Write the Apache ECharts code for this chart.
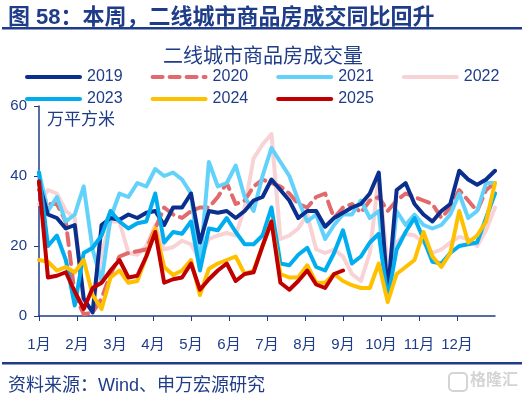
<!DOCTYPE html>
<html>
<head>
<meta charset="utf-8">
<script src="https://cdn.jsdelivr.net/npm/echarts@6/dist/echarts.min.js"></script>
<style>
html,body{margin:0;padding:0;background:#fff;}
#c{width:526px;height:395px;}
</style>
</head>
<body>
<div id="c"></div>
<script>
// Month tick labels
const months = ['1月','2月','3月','4月','5月','6月','7月','8月','9月','10月','11月','12月'];
const yTicks = [0, 20, 40, 60];
const years = ['2019','2020','2021','2022','2023','2024','2025'];

// Weekly transaction area, 万平方米 (52 weeks per year)
const v2019 = [38,29,28,25,26,5,1,26,28,27.5,29,28,29.5,30,26,31,31,35,21,30,29.5,30,28,30,33,34,39,36,33,28,30,30,25.5,28,29.5,31,32,35,41,6,36,38,32,29,27,30,32,41.5,39,37.5,39,41.5];
const v2020 = [36,32,32,27,6,0.5,1,5,12,17,18,18.5,19,25,31,29,28,30,31,31,34,38,32,33,37,39,38,37,35,32,31,34,35,28,31,32,29.5,33,34,30,33,35,34,33,32,28,31,36,33,30,36,38];
const v2021 = [41,30,34,27,29,37,19,10,28,35,34,38,37,42,40,41,39,35,14,44,37,38,43,34,30,40,48,44,40,33,27,29,22,26,29,29,33,28,30,5,30,26,29,26,25,26,29,35,28,30,38,38];
const v2022 = [32,36,35,30,28,3,2,18,27,27,18,17.5,20,26,19,19.7,21.5,20.5,16,22,23,23.7,23,31,45,49,52,22,23,25,29,19,18,19,17,12,10,18,40,14,21,23.5,23,21,18,19,21,22.6,22,20,24.5,31];
const v2023 = [41,20,23,16,3,18,19.5,23,30,27,25,26.5,27,35,21,24,23.5,27,13,25,24.5,28,24,20.5,20.5,23,31,15,14.5,17.5,19.5,14,13,18,24.5,15,17,21,23.5,5,19,24,28,22,15.5,15,18,20,20.5,21,28,35];
const v2024 = [16,15.5,13,14,12.5,16,6,2,11,13,9.5,10,17,25,14,11.7,13,16,6,13.5,15,16,17,12,13,20,27,12,11,11,14.5,9.5,9.5,12,10,8.8,8,8,15,4,12,14,16,24,17,14,18,30,21,23,27,38];
const v2025 = [38.5,11,11.5,12.5,7,2,8,9.5,13,16,11,11.5,17,24,9.5,10.5,11,15,7.5,10.5,13,15,10,12,12.5,20,27,9.5,7.5,10,13,9,8,12,13];

const navy = '#1f3c88';
const font = '"Liberation Sans", Arial, "Noto Sans CJK SC", sans-serif';

function pts(arr){ return arr.map((v,i)=>[i,v]); }
const lastWeek = 51;
const monthPos = months.map((m,i)=> i*lastWeek/12);

const styles = {
  '2019': {color:'#0b2f8f', type:'solid'},
  '2020': {color:'#e26a6c', type:[12,7]},
  '2021': {color:'#63d2fb', type:'solid'},
  '2022': {color:'#f8d2d4', type:'solid'},
  '2023': {color:'#00aeef', type:'solid'},
  '2024': {color:'#ffc000', type:'solid'},
  '2025': {color:'#c00000', type:'solid'}
};
const dataMap = {'2019':v2019,'2020':v2020,'2021':v2021,'2022':v2022,'2023':v2023,'2024':v2024,'2025':v2025};
const drawOrder = ['2022','2020','2021','2019','2023','2024','2025'];

const series = drawOrder.map(y => ({
  name: y,
  type: 'line',
  data: pts(dataMap[y]),
  showSymbol: false,
  symbol: 'none',
  lineStyle: {width: 4, color: styles[y].color, type: styles[y].type, cap: 'round', join:'round'},
  itemStyle: {color: styles[y].color},
  animation: false
}));

const solidIcon = 'path://M2,0h53a2,2 0 0 1 0,4h-53a2,2 0 0 1 0,-4z';
const dashIcon = 'path://M2,0h10a2,2 0 0 1 0,4h-10a2,2 0 0 1 0,-4z M19,0h10a2,2 0 0 1 0,4h-10a2,2 0 0 1 0,-4z M36,0h10a2,2 0 0 1 0,4h-10a2,2 0 0 1 0,-4z M53,0h2a2,2 0 0 1 0,4h-2a2,2 0 0 1 0,-4z';
function legendItem(y){ return {name: y, icon: y === '2020' ? dashIcon : solidIcon, itemStyle: {color: styles[y].color}}; }

const legendCommon = {
  left: 20, itemWidth: 57, itemHeight: 4, itemGap: 28,
  textStyle: {color: navy, fontSize: 16, fontFamily: font},
  selectedMode: false
};

const chart = echarts.init(document.getElementById('c'), null, {renderer:'canvas'});
chart.setOption({
  backgroundColor: '#fff',
  animation: false,
  title: [
    {text: '图 58：本周，二线城市商品房成交同比回升', left: 3, top: 2,
     textStyle: {color: navy, fontSize: 22, fontWeight: 'bold', fontFamily: font}},
    {text: '二线城市商品房成交量', left: 'center', top: 42,
     textStyle: {color: navy, fontSize: 20, fontWeight: 'normal', fontFamily: font}},
    {text: '资料来源：Wind、申万宏源研究', left: 3, top: 372,
     textStyle: {color: navy, fontSize: 18, fontWeight: 'normal', fontFamily: font}}
  ],
  legend: [
    Object.assign({}, legendCommon, {top: 64, data: ['2019','2020','2021','2022'].map(legendItem)}),
    Object.assign({}, legendCommon, {top: 86, data: ['2023','2024','2025'].map(legendItem)})
  ],
  grid: {left: 39, right: 31, top: 106, bottom: 79, containLabel: false},
  xAxis: {
    type: 'value', min: 0, max: lastWeek,
    axisLine: {show: true, lineStyle: {color: navy, width: 1.5}},
    axisTick: {show: true, length: 5, customValues: monthPos, lineStyle: {color: navy}},
    axisLabel: {customValues: monthPos, color: navy, fontSize: 15, fontFamily: font, margin: 21,
      formatter: v => months[Math.round(v*12/lastWeek)] || ''},
    splitLine: {show: false}
  },
  yAxis: {
    type: 'value', min: yTicks[0], max: yTicks[yTicks.length-1], interval: 20,
    axisLine: {show: true, lineStyle: {color: navy, width: 1.5}},
    axisTick: {show: true, length: 5, lineStyle: {color: navy}},
    axisLabel: {color: navy, fontSize: 15, fontFamily: font, margin: 12},
    splitLine: {show: false}
  },
  graphic: [
    {type: 'rect', shape: {x: 2, y: 27, width: 520, height: 2.5}, style: {fill: navy}},
    {type: 'rect', shape: {x: 2, y: 362, width: 520, height: 2.5}, style: {fill: navy}},
    {type: 'text', left: 47, top: 112, style: {text: '万平方米', fill: navy, fontSize: 17, fontFamily: font}},
    {type: 'rect', shape: {x: 449, y: 373, width: 18, height: 18, r: 4}, style: {fill: 'none', stroke: '#d4d4d4', lineWidth: 2}},
    {type: 'text', left: 470, top: 373, style: {text: '格隆汇', fill: '#d4d4d4', fontSize: 16, fontWeight: 'bold', fontFamily: font}}
  ],
  series: series
});
</script>
</body>
</html>
